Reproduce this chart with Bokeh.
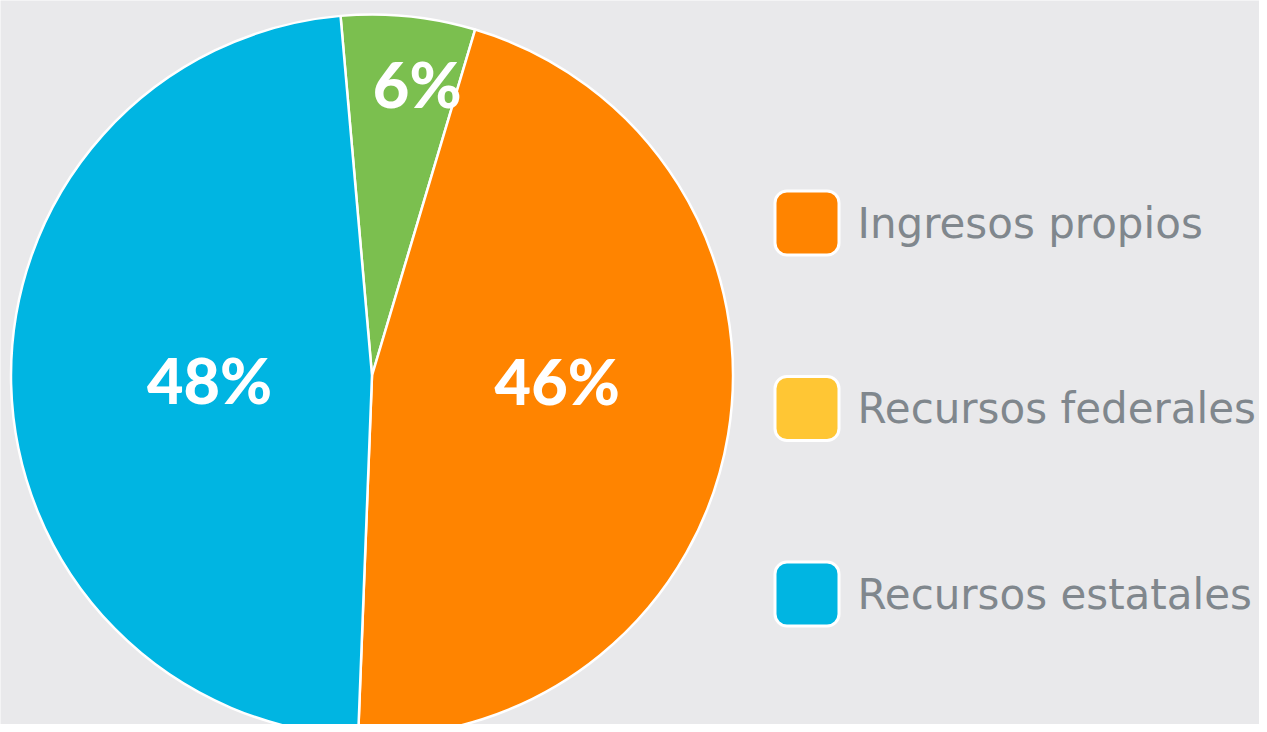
import math
from bokeh.plotting import figure
from bokeh.models import Range1d, ColumnDataSource, Rect
from bokeh.core.properties import value
from bokeh.embed import file_html
from bokeh.resources import INLINE

# ---- data ----
slice_names = ["Otros", "Ingresos propios", "Recursos estatales"]
slice_values = [6, 46, 48]
slice_labels = ["6%", "46%", "48%"]
slice_colors = ["#7BBF4F", "#FF8400", "#00B5E2"]

legend_names = ["Ingresos propios", "Recursos federales", "Recursos estatales"]
legend_colors = ["#FF8400", "#FFC634", "#00B5E2"]

# ---- layout / style ----
W, H = 1259, 724
BG = "#E9E9EB"
def px(x):
    return x
def py(y):
    return H - y

cx, cy, R = px(371.5), py(375), 361
start_deg = -5.0  # clockwise from top
label_r = [0.80, 0.52, 0.45]
label_dx = [16, 0, 0]
label_dy = [5, 26, 0]

p = figure(width=W, height=H, output_backend="svg", toolbar_location=None,
           x_range=Range1d(0, W), y_range=Range1d(0, H), min_border=0)
p.axis.visible = False
p.grid.visible = False
p.outline_line_color = None
p.background_fill_color = BG
p.border_fill_color = BG

total = float(sum(slice_values))
starts, ends, lx, ly = [], [], [], []
acc = start_deg
for i, v in enumerate(slice_values):
    a0 = acc
    a1 = acc + 360.0 * v / total
    acc = a1
    starts.append(math.radians(90 - a0))
    ends.append(math.radians(90 - a1))
    mid = math.radians(90 - (a0 + a1) / 2)
    lx.append(cx + label_r[i] * R * math.cos(mid) + label_dx[i])
    ly.append(cy + label_r[i] * R * math.sin(mid) + label_dy[i])

src = ColumnDataSource(dict(start=starts, end=ends, color=slice_colors,
                            lx=lx, ly=ly, label=slice_labels))
p.wedge(x=cx, y=cy, radius=R, start_angle="start", end_angle="end",
        direction="clock", fill_color="color", line_color="white",
        line_width=2.5, source=src)
p.text(x="lx", y="ly", text="label", source=src, text_color="white",
       text_font=value("Lato Black"), text_font_style="bold", text_font_size="63px",
       text_align="center", text_baseline="middle")

# legend
lgx = px(806.5)
lgy = [py(222.5 + 185.5 * i) for i in range(len(legend_names))]
lsrc = ColumnDataSource(dict(x=[lgx] * len(legend_names), y=lgy,
                             color=legend_colors, name=legend_names,
                             tx=[px(857)] * len(legend_names)))
if "border_radius" in Rect.properties():
    p.rect(x="x", y="y", width=64, height=64, fill_color="color",
           line_color="white", line_width=3, border_radius=12, source=lsrc)
else:
    p.rect(x="x", y="y", width=64, height=64, fill_color="color",
           line_color="white", line_width=3, source=lsrc)
p.text(x="tx", y="y", text="name", source=lsrc, text_color="#80878D",
       text_font=value("DejaVu Sans"), text_font_size="42px",
       text_align="left", text_baseline="middle")

html = file_html(p, INLINE)
html = html.replace("<body>", '<body style="background:%s">' % BG, 1)
open("out.html", "w").write(html)
